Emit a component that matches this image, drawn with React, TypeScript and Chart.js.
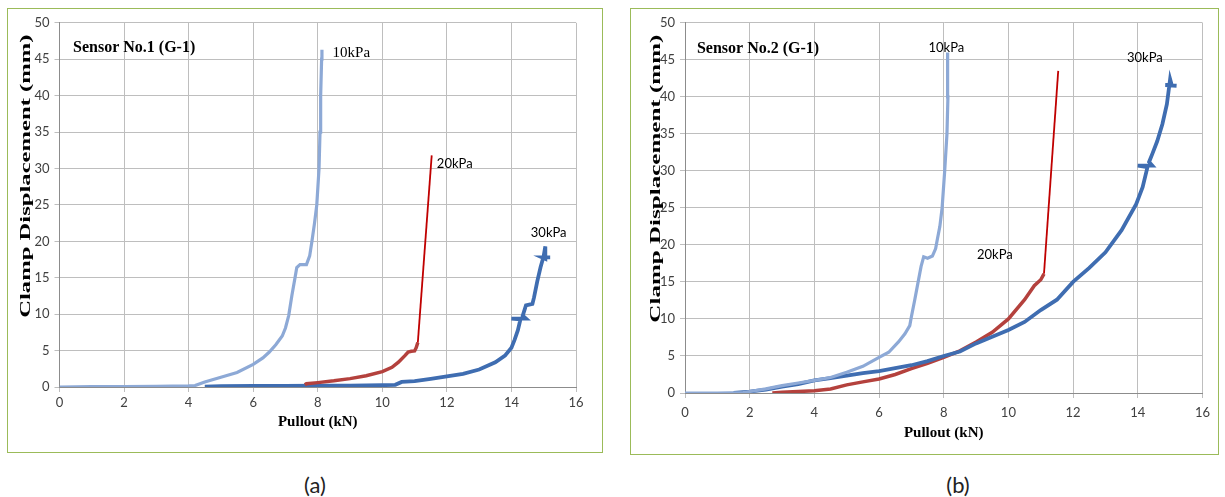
import React, { useEffect, useRef } from "react";
import { Chart, registerables } from "chart.js";

Chart.register(...registerables);

// ---------- Panel (a): Sensor No.1 (G-1) ----------
const a10x = [0, 1, 2, 3, 4, 4.2, 4.5, 5.0, 5.5, 6.0, 6.3, 6.5, 6.7, 6.9, 7.0, 7.1, 7.2, 7.3, 7.35, 7.45, 7.65, 7.75, 7.82, 7.9, 7.97, 8.04, 8.07, 8.09, 8.12, 8.13];
const a10y = [0, 0.05, 0.05, 0.1, 0.15, 0.2, 0.7, 1.35, 2.0, 3.1, 4.0, 4.8, 5.8, 7.0, 8.1, 9.8, 12.6, 15.1, 16.4, 16.8, 16.8, 18.0, 20.0, 22.5, 25, 30, 35, 40, 45, 46.3];

const a20x = [7.6, 7.65, 8.0, 8.5, 9.0, 9.5, 10.0, 10.3, 10.5, 10.7, 10.8, 10.9, 11.0, 11.05, 11.1];
const a20y = [0.3, 0.45, 0.6, 0.85, 1.15, 1.55, 2.1, 2.7, 3.4, 4.3, 4.8, 4.9, 4.95, 5.4, 6.1];
const a20tailX = [11.1, 11.53];
const a20tailY = [6.1, 31.8];

const a30x = [4.5, 5, 6, 7, 8, 9, 10, 10.4, 10.6, 11.0, 11.5, 12.0, 12.5, 13.0, 13.5, 13.8, 14.0, 14.1, 14.2, 14.28, 14.0, 14.45, 14.35, 14.45, 14.65, 14.7, 14.8, 14.9, 15.0, 15.05, 15.05, 14.95, 15.2];
const a30y = [0.05, 0.1, 0.15, 0.15, 0.2, 0.2, 0.25, 0.3, 0.7, 0.8, 1.1, 1.45, 1.8, 2.4, 3.4, 4.3, 5.4, 6.5, 7.8, 9.3, 9.4, 9.4, 9.8, 11.2, 11.4, 12.3, 14.5, 16.4, 18.0, 19.3, 17.6, 17.8, 17.8];

// ---------- Panel (b): Sensor No.2 (G-1) ----------
const b10x = [0, 1, 1.8, 2.0, 2.5, 3.0, 3.5, 4.0, 4.5, 5.0, 5.5, 6.0, 6.3, 6.6, 6.8, 6.95, 7.0, 7.1, 7.2, 7.3, 7.38, 7.5, 7.65, 7.75, 7.8, 7.88, 7.95, 8.03, 8.1, 8.13, 8.11, 8.13];
const b10y = [0, 0, 0.05, 0.2, 0.55, 1.0, 1.35, 1.7, 2.1, 2.8, 3.6, 4.8, 5.5, 6.9, 8.0, 9.1, 10.3, 12.5, 14.8, 17.1, 18.4, 18.2, 18.5, 19.5, 20.7, 22.5, 25, 30, 35, 40, 45, 46];

const b20x = [2.7, 3.0, 3.5, 4.0, 4.5, 5.0, 5.5, 6.0, 6.5, 7.0, 7.5, 8.0, 8.5, 9.0, 9.5, 10.0, 10.5, 10.8, 11.0, 11.1];
const b20y = [0, 0.1, 0.2, 0.3, 0.55, 1.1, 1.5, 1.9, 2.5, 3.3, 4.0, 4.8, 5.7, 6.9, 8.2, 10.0, 12.6, 14.5, 15.3, 16.1];
const b20tailX = [11.1, 11.54];
const b20tailY = [16.1, 43.5];

const b30x = [1.5, 2.0, 2.5, 3.0, 3.5, 4.0, 4.5, 5.0, 5.5, 6.0, 6.5, 7.0, 7.5, 8.0, 8.5, 9.0, 9.5, 10.0, 10.5, 11.0, 11.5, 12.0, 12.5, 13.0, 13.5, 13.95, 14.15, 14.3, 14.0, 14.45, 14.35, 14.45, 14.6, 14.76, 14.9, 14.95, 15.0, 15.05, 14.85, 15.2];
const b30y = [0, 0.2, 0.45, 0.85, 1.2, 1.7, 2.0, 2.35, 2.7, 2.95, 3.35, 3.75, 4.3, 5.0, 5.6, 6.7, 7.6, 8.5, 9.6, 11.2, 12.6, 15.0, 16.9, 19.0, 22.0, 25.5, 27.8, 30.5, 30.7, 30.7, 31.2, 32.3, 34, 36.3, 39, 40.7, 42.4, 41.6, 41.6, 41.5];

// ---------- axes ----------
const xMin = 0, xMax = 16, xStep = 2;
const yMin = 0, yMax = 50, yStep = 5;
const xTitle = "Pullout (kN)";
const yTitle = "Clamp Displacement (mm)";

const C_LIGHT = "#8DA9D6";
const C_RED = "#B4413D";
const C_REDLINE = "#C00000";
const C_BLUE = "#3F6DB1";

const pts = (xs: number[], ys: number[]) => xs.map((x, i) => ({ x, y: ys[i] }));

type TextItem = { text: string; x: number; y: number; font: string; align: CanvasTextAlign };

const dataTextPlugin = {
  id: "dataText",
  afterDatasetsDraw(chart: any, _args: any, opts: any) {
    const { ctx, scales } = chart;
    const items: TextItem[] = (opts && opts.items) || [];
    items.forEach((it) => {
      ctx.save();
      ctx.font = it.font;
      ctx.fillStyle = "#000";
      ctx.textAlign = it.align;
      ctx.textBaseline = "middle";
      ctx.fillText(it.text, scales.x.getPixelForValue(it.x), scales.y.getPixelForValue(it.y));
      ctx.restore();
    });
  },
};

// y-axis title, stretched along its length like the reference
const yTitlePlugin = {
  id: "yTitleStretch",
  afterDraw(chart: any, _args: any, opts: any) {
    const { ctx, scales } = chart;
    ctx.save();
    ctx.font = 'bold 15px "Liberation Serif"';
    ctx.fillStyle = "#000";
    ctx.textAlign = "center";
    ctx.textBaseline = "middle";
    const w = ctx.measureText(opts.text).width;
    const y0 = scales.y.getPixelForValue(opts.fromVal);
    const y1 = scales.y.getPixelForValue(opts.toVal);
    const len = Math.abs(y0 - y1);
    ctx.translate(opts.x, (y0 + y1) / 2);
    ctx.rotate(-Math.PI / 2);
    ctx.scale(len / w, 1);
    ctx.fillText(opts.text, 0, 0);
    ctx.restore();
  },
};

type PanelProps = {
  left: number; top: number; width: number; height: number;
  padR: number; padT: number; yW: number; xH: number;
  yTickPad: number; xTickPad: number; xTitlePad: number; yTitleX: number;
  datasets: any[]; items: TextItem[];
};

function Panel(p: PanelProps) {
  const ref = useRef<HTMLCanvasElement | null>(null);
  useEffect(() => {
    if (!ref.current) return;
    const tickFont = { family: "Lato", size: 13 };
    const titleFont = { family: "Liberation Serif", size: 15, weight: "bold" as const };
    const chart = new Chart(ref.current, {
      type: "scatter",
      data: { datasets: p.datasets },
      plugins: [dataTextPlugin, yTitlePlugin],
      options: {
        animation: false,
        responsive: false,
        maintainAspectRatio: false,
        layout: { padding: { left: 0, right: p.padR, top: p.padT, bottom: 0 } },
        elements: { point: { radius: 0, hoverRadius: 0 }, line: { tension: 0 } },
        plugins: {
          legend: { display: false },
          tooltip: { enabled: false },
          dataText: { items: p.items },
          yTitleStretch: { text: yTitle, x: p.yTitleX, fromVal: 9.5, toVal: 48.4 },
        } as any,
        scales: {
          x: {
            type: "linear",
            min: xMin, max: xMax,
            ticks: { stepSize: xStep, font: tickFont, color: "#404040", padding: p.xTickPad, maxRotation: 0 },
            grid: { color: "#BEBEBE", lineWidth: 1, tickLength: 5 },
            border: { color: "#8C8C8C" },
            title: { display: true, text: xTitle, font: titleFont, color: "#000", padding: { top: 0, bottom: p.xTitlePad } },
            afterFit: (s: any) => { s.height = p.xH; },
          },
          y: {
            type: "linear",
            min: yMin, max: yMax,
            ticks: { stepSize: yStep, font: tickFont, color: "#404040", padding: p.yTickPad },
            grid: { color: "#BEBEBE", lineWidth: 1, tickLength: 5 },
            border: { color: "#8C8C8C" },
            title: { display: false, text: yTitle },
            afterFit: (s: any) => { s.width = p.yW; },
          },
        },
      },
    });
    return () => chart.destroy();
  }, []);
  return (
    <canvas
      ref={ref}
      width={p.width}
      height={p.height}
      style={{ position: "absolute", left: p.left, top: p.top, width: p.width, height: p.height }}
    />
  );
}

const line = (xs: number[], ys: number[], color: string, w: number, label: string) => ({
  label,
  data: pts(xs, ys),
  showLine: true,
  borderColor: color,
  backgroundColor: color,
  borderWidth: w,
  pointRadius: 0,
  fill: false,
});

export default function App() {
  const dsA = [
    line(a10x, a10y, C_LIGHT, 3.2, "10kPa"),
    line(a20tailX, a20tailY, C_REDLINE, 1.8, "20kPa"),
    line(a20x, a20y, C_RED, 3.5, "20kPa"),
    line(a30x, a30y, C_BLUE, 3.8, "30kPa"),
  ];
  const dsB = [
    line(b10x, b10y, C_LIGHT, 3.2, "10kPa"),
    line(b30x, b30y, C_BLUE, 3.8, "30kPa"),
    line(b20tailX, b20tailY, C_REDLINE, 1.8, "20kPa"),
    line(b20x, b20y, C_RED, 3.5, "20kPa"),
  ];
  const serifB16 = 'bold 16px "Liberation Serif"';
  const itemsA: TextItem[] = [
    { text: "Sensor No.1 (G-1)", x: 0.42, y: 46.5, font: serifB16, align: "left" },
    { text: "10kPa", x: 8.46, y: 45.9, font: '15px "Liberation Serif"', align: "left" },
    { text: "20kPa", x: 11.69, y: 30.6, font: '13px "Lato"', align: "left" },
    { text: "30kPa", x: 14.6, y: 21.2, font: '13px "Lato"', align: "left" },
  ];
  const itemsB: TextItem[] = [
    { text: "Sensor No.2 (G-1)", x: 0.37, y: 46.5, font: serifB16, align: "left" },
    { text: "10kPa", x: 8.08, y: 46.6, font: '13px "Lato"', align: "center" },
    { text: "30kPa", x: 14.22, y: 45.3, font: '13px "Lato"', align: "center" },
    { text: "20kPa", x: 9.58, y: 18.6, font: '13px "Lato"', align: "center" },
  ];
  const border = "1.5px solid #9BBB59";
  const cap: React.CSSProperties = {
    position: "absolute", fontFamily: "Lato", fontSize: 22, color: "#222",
    transform: "translate(-50%, -50%)", whiteSpace: "nowrap",
  };
  return (
    <div style={{ position: "absolute", left: 0, top: 0, width: 1225, height: 497, background: "#fff" }}>
      <div style={{ position: "absolute", left: 7, top: 8, width: 596, height: 445, border, boxSizing: "border-box" }} />
      <div style={{ position: "absolute", left: 630, top: 8, width: 589, height: 447, border, boxSizing: "border-box" }} />
      <Panel left={9} top={10} width={592} height={441} padR={25} padT={7} yW={50.5} xH={64}
        yTickPad={5} xTickPad={3} xTitlePad={20} yTitleX={17} datasets={dsA} items={itemsA} />
      <Panel left={632} top={10} width={585} height={443} padR={11} padT={11} yW={53} xH={60}
        yTickPad={5} xTickPad={7} xTitlePad={11} yTitleX={24} datasets={dsB} items={itemsB} />
      <div style={{ ...cap, left: 315, top: 484 }}>(a)</div>
      <div style={{ ...cap, left: 958, top: 484 }}>(b)</div>
    </div>
  );
}
